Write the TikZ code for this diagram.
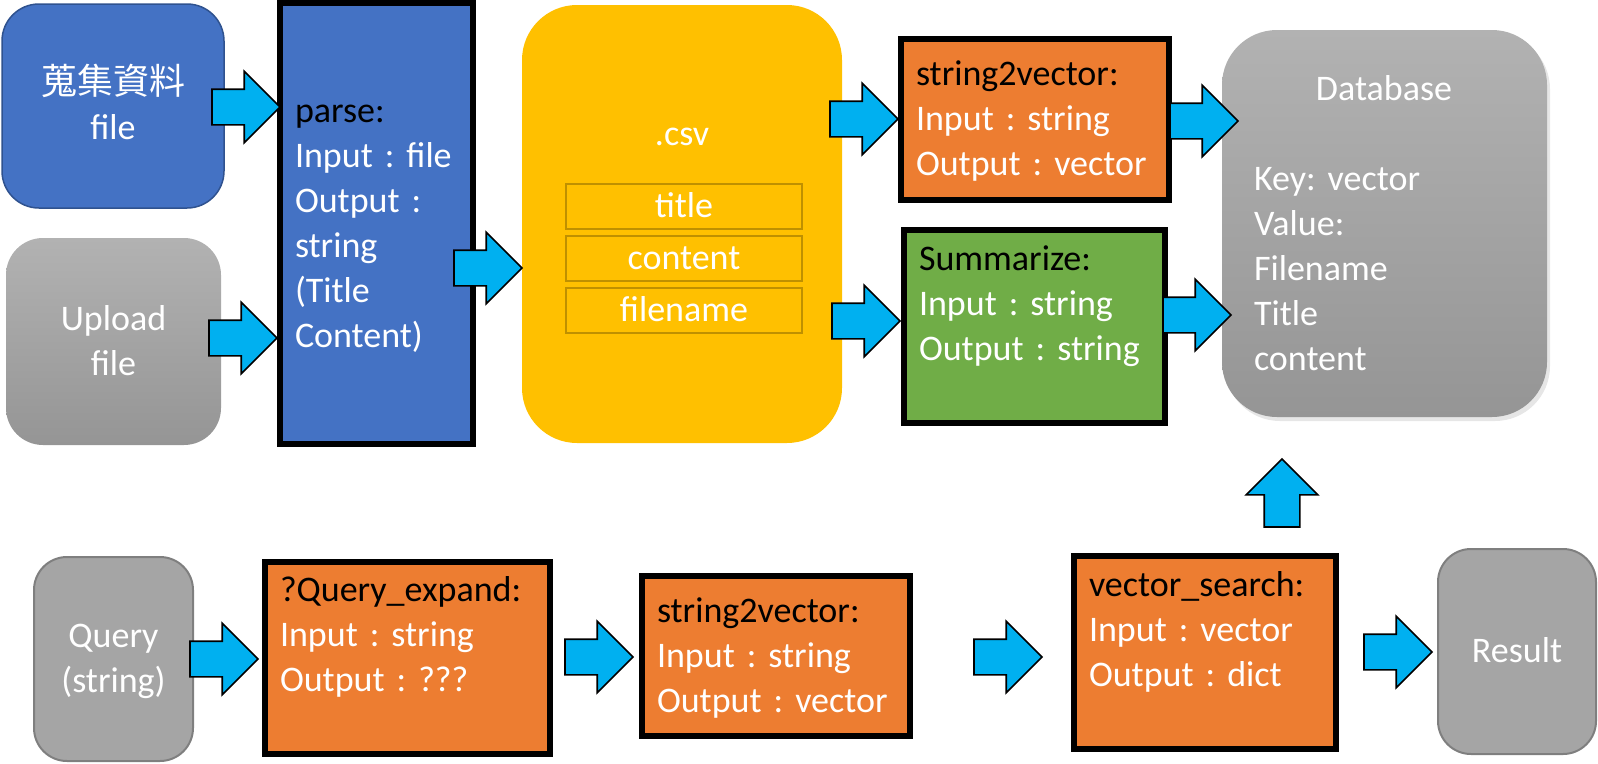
\documentclass[tikz,border=0pt]{standalone}
\usepackage{fontspec}
\setmainfont{Carlito}
\newfontfamily\cjkfont{Noto Sans CJK TC}
\usetikzlibrary{shapes.arrows,shadows}
\frenchspacing

\definecolor{boxblue}{HTML}{4472C4}
\definecolor{boxblueline}{HTML}{2F528F}
\definecolor{boxorange}{HTML}{ED7D31}
\definecolor{boxgreen}{HTML}{70AD47}
\definecolor{boxyellow}{HTML}{FFC000}
\definecolor{fieldline}{HTML}{BF9000}
\definecolor{boxgray}{HTML}{A5A5A5}
\definecolor{grayline}{HTML}{7F7F7F}
\definecolor{graytop}{HTML}{B2B2B2}
\definecolor{graybottom}{HTML}{959595}
\definecolor{arrowcyan}{HTML}{00B0F0}

\newcommand\rowstrut{\rule[-11.5pt]{0pt}{45pt}}
\newcommand\boxhead[1]{\textcolor{black}{#1}}

\begin{document}
\begin{tikzpicture}[x=1pt,y=-1pt,
  every node/.style={outer sep=0pt,font=\fontsize{36}{45}\selectfont},
  procbox/.style={draw=black,line width=6pt,text=white,align=left,inner xsep=15pt,inner ysep=0pt,
    anchor=north west,execute at begin node=\rowstrut,execute at end node=\rowstrut},
  roundbox/.style={text=white,align=center,inner sep=0pt,
    execute at begin node=\rowstrut,execute at end node=\rowstrut},
  fieldbox/.style={draw=fieldline,line width=2pt,text=white,minimum width=236pt,minimum height=44pt,
    inner sep=0pt,execute at begin node=\rowstrut},
  blockarrow/.style={single arrow,draw=black,line width=1.6pt,fill=arrowcyan,inner sep=17pt,
    minimum height=68pt,minimum width=71pt,single arrow head extend=18pt,anchor=tip},
]
\useasboundingbox (0,0) rectangle (1598,763);

% input files
  \node[roundbox,fill=boxblue,draw=boxblueline,line width=1.5pt,rounded corners=37pt,text width=200pt,
    minimum width=222pt,minimum height=204pt] (collect) at (113,106) {{\cjkfont 蒐集資料}\\file};
  \node[roundbox,top color=graytop,bottom color=graybottom,rounded corners=37pt,text width=200pt,
    minimum width=215pt,minimum height=207pt] (upload) at (113.5,341.5) {Upload\\file};
% parser
  \node[procbox,fill=boxblue,text width=163pt,minimum height=441pt] (parse) at (280,3)
    {\boxhead{parse:}\\Input : file\\Output :\\string\\(Title\\Content)};
% csv table
  \node[roundbox,fill=boxyellow,rounded corners=55pt,minimum width=320pt,minimum height=438pt] (csv) at (682,224) {};
  \node[anchor=base,text=white] (csvname) at (682,145) {.csv};
  \node[fieldbox] (ftitle) at (684,206) {title};
  \node[fieldbox] (fcontent) at (684,258) {content};
  \node[fieldbox] (fname) at (684,310) {filename};
% encoders
  \node[procbox,fill=boxorange,text width=238pt,minimum height=161pt] (svtop) at (901,39)
    {\boxhead{string2vector:}\\Input : string\\Output : vector};
  \node[procbox,fill=boxgreen,text width=231pt,minimum height=193pt] (summ) at (904,230)
    {\boxhead{Summarize:}\\Input : string\\Output : string\\};
% database
  \node[roundbox,top color=graytop,bottom color=graybottom,rounded corners=55pt,
    minimum width=325pt,minimum height=387pt,
    drop shadow={shadow xshift=3pt,shadow yshift=-4pt,opacity=.2}] (db) at (1384.5,223.5) {};
  \node[anchor=base,text=white] (dbname) at (1384,100) {Database};
  \node[anchor=north west,align=left,text=white,inner sep=0pt,text width=260pt,
    execute at begin node=\rowstrut,execute at end node=\rowstrut] (dbfields) at (1254,156.5)
    {Key: vector\\Value:\\Filename\\Title\\content};

% query row
  \node[roundbox,fill=boxgray,draw=grayline,line width=2pt,rounded corners=33pt,text width=150pt,
    minimum width=159pt,minimum height=204pt] (query) at (113.5,659) {Query\\(string)};
  \node[procbox,fill=boxorange,text width=255pt,minimum height=192pt] (qexp) at (265,562)
    {\boxhead{?Query\_expand:}\\Input : string\\Output : ???\\};
  \node[procbox,fill=boxorange,text width=238pt,minimum height=160pt] (svbot) at (642,576)
    {\boxhead{string2vector:}\\Input : string\\Output : vector};
  \node[procbox,fill=boxorange,text width=232pt,minimum height=193pt] (vsearch) at (1074,556)
    {\boxhead{vector\_search:}\\Input : vector\\Output : dict\\};
  \node[roundbox,fill=boxgray,draw=grayline,line width=2pt,rounded corners=33pt,text width=150pt,
    minimum width=158pt,minimum height=205pt] (result) at (1517,651.5) {Result};

% block arrows
  \node[blockarrow] (acollect) at (280,107) {};
  \node[blockarrow] (aupload) at (277,338) {};
  \node[blockarrow] (aparse) at (522,268) {};
  \node[blockarrow] (acsvsv) at (898,119) {};
  \node[blockarrow] (acsvsum) at (900,321) {};
  \node[blockarrow] (asvdb) at (1238,121) {};
  \node[blockarrow] (asumdb) at (1231,315) {};
  \node[blockarrow] (aquery) at (258,659) {};
  \node[blockarrow] (aqexp) at (633,657) {};
  \node[blockarrow] (asvbot) at (1042,657) {};
  \node[blockarrow] (asearch) at (1432,652) {};
  \node[blockarrow,shape border rotate=90] (aup) at (1282,459) {};
\end{tikzpicture}
\end{document}
